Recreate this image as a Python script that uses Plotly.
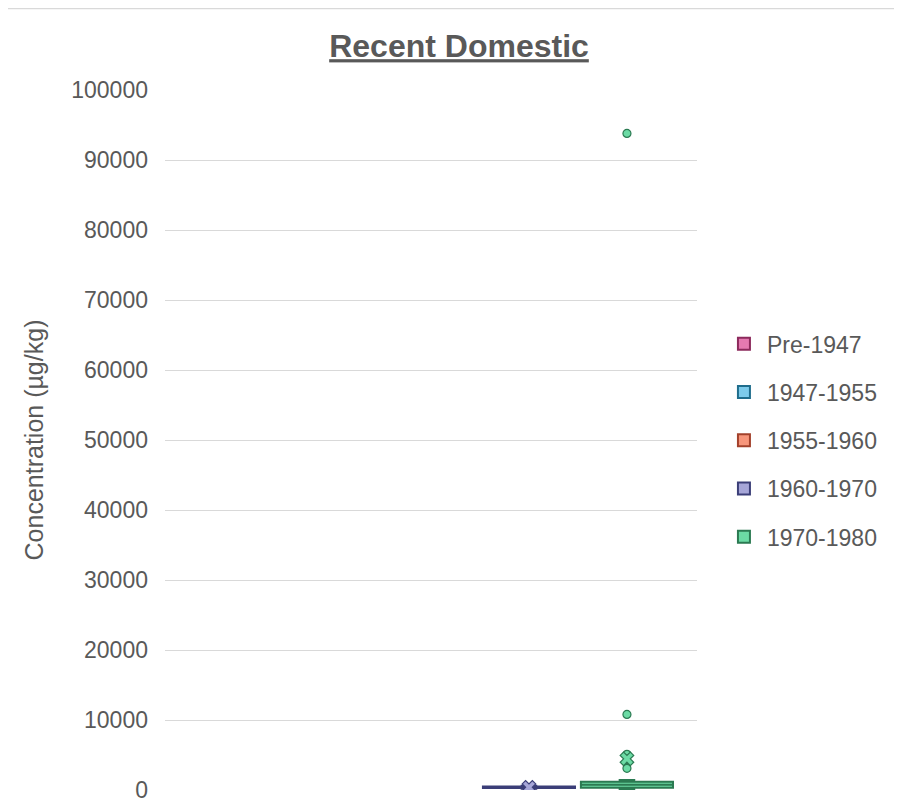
import plotly.graph_objects as go

series_names = ["Pre-1947", "1947-1955", "1955-1960", "1960-1970", "1970-1980"]
fill_colors = ["#e57ab1", "#7dcbeb", "#f7967b", "#a6a6d8", "#6cdba5"]
edge_colors = ["#8c2a5c", "#1f6d8c", "#a3412b", "#3b3e78", "#2b7a52"]

# sample values per series (µg/kg); empty series have no data
vals_pre1947 = []
vals_1947_1955 = []
vals_1955_1960 = []
vals_1960_1970 = [180, 220, 260, 300, 330, 360, 400, 430, 470, 520, 560, 600]
vals_1970_1980 = [40, 120, 150, 180, 220, 260, 300, 350, 400, 450, 500, 560, 620,
                  680, 740, 800, 860, 920, 980, 1040, 1100, 1150, 1220, 1300,
                  1430, 3100, 5100, 10800, 93800]
all_values = [vals_pre1947, vals_1947_1955, vals_1955_1960, vals_1960_1970, vals_1970_1980]

y_ticks = list(range(0, 100001, 10000))

fig = go.Figure()
for i, (name, vals) in enumerate(zip(series_names, all_values)):
    fig.add_trace(go.Box(
        name=name,
        x=[name] * len(vals) if vals else [name],
        y=vals if vals else [None],
        legendgroup=name,
        fillcolor=fill_colors[i],
        line=dict(color=edge_colors[i], width=2),
        marker=dict(color=fill_colors[i], size=8, line=dict(color=edge_colors[i], width=1.2),
                    outliercolor=fill_colors[i]),
        boxpoints="outliers",
        width=0.94,
        whiskerwidth=0.18,
        showlegend=True,
    ))
    if vals:
        mean_val = sum(vals) / len(vals)
        fig.add_trace(go.Scatter(
            x=[name], y=[mean_val], mode="markers", showlegend=False,
            legendgroup=name, hoverinfo="skip",
            marker=dict(symbol="x", size=12, color=fill_colors[i],
                        line=dict(color=edge_colors[i], width=1.2)),
        ))

# page is offset 8px by the default body margin
W, H = 886, 795
fig.update_layout(
    width=W, height=H,
    paper_bgcolor="white", plot_bgcolor="white",
    margin=dict(l=157, r=197, t=82, b=13, autoexpand=False),
    font=dict(family="Liberation Sans, Arial, sans-serif", color="#595959", size=22),
    title=dict(text="<b><u>Recent Domestic</u></b>", x=(459 - 8) / W, xanchor="center",
               y=1 - 38 / H, yanchor="middle",
               font=dict(size=32, color="#595959", family="Liberation Sans Narrow, Liberation Sans, Arial")),
    showlegend=True,
    legend=dict(x=1.045, xanchor="left", y=0.668, yanchor="top",
                traceorder="grouped", tracegroupgap=15.3,
                font=dict(size=23, color="#595959"), itemwidth=36),
    xaxis=dict(type="category", categoryarray=series_names, categoryorder="array",
               range=[-0.715, 4.715], showticklabels=False, showgrid=False,
               zeroline=False, showline=False, ticks="", automargin=False),
    yaxis=dict(range=[0, 100000], tickvals=y_ticks, ticktext=[str(v) for v in y_ticks],
               showgrid=True, gridcolor="#d9d9d9", gridwidth=1.3, zeroline=False,
               showline=False, ticks="", ticklen=0, ticklabelstandoff=16,
               ticklabeloverflow="allow", automargin=False,
               tickfont=dict(size=23, color="#595959"),
               title=dict(text="Concentration (µg/kg)", standoff=20,
                          font=dict(size=25, color="#595959"))),
    boxmode="overlay",
)
fig.add_shape(type="rect", xref="paper", yref="paper",
              x0=(7 - 165) / 532, x1=(905 - 165) / 532,
              y0=-(815 - 790) / 700, y1=1 + (90 - 8.5) / 700,
              line=dict(color="#d9d9d9", width=1.5), layer="below")

fig.write_html("out.html", config={"displayModeBar": False})
